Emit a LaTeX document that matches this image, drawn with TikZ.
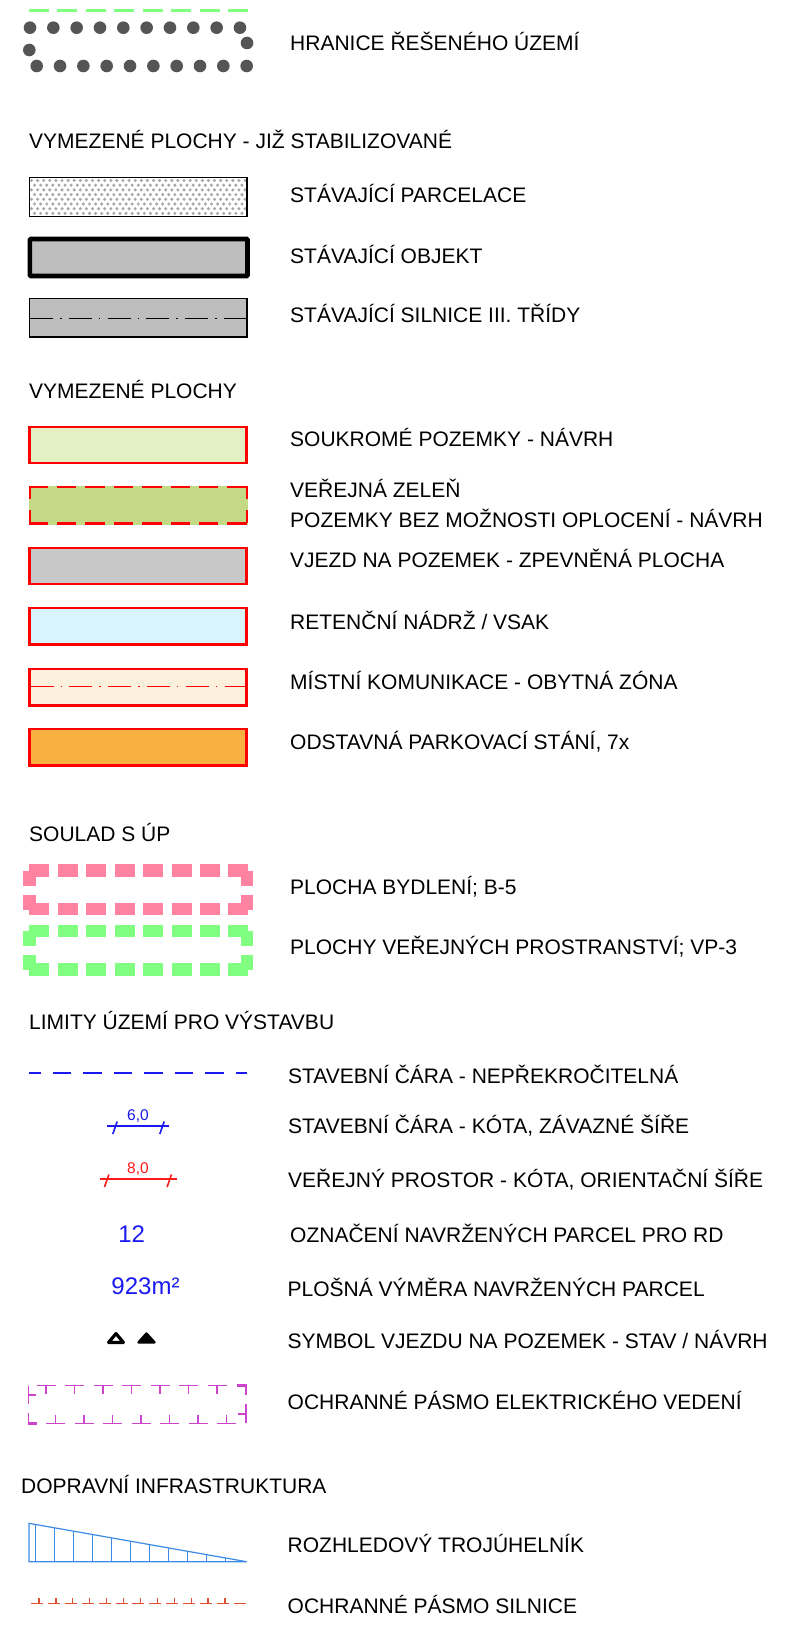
\documentclass[tikz,border=0pt]{standalone}
\usepackage{fontspec}
\setmainfont{Liberation Sans}
\definecolor{dotc}{HTML}{555555}
\definecolor{lgreen}{HTML}{80FF80}
\definecolor{pinkc}{HTML}{FF82A0}
\definecolor{pgray}{HTML}{A8A8A8}
\definecolor{bgray}{HTML}{BEBEBE}
\definecolor{fsouk}{HTML}{E3F0C3}
\definecolor{fzel}{HTML}{C3D985}
\definecolor{fvjezd}{HTML}{C8C8C8}
\definecolor{fret}{HTML}{D8F4FC}
\definecolor{fkom}{HTML}{FDF0DC}
\definecolor{fodst}{HTML}{F8B040}
\definecolor{bluec}{HTML}{1A1AF0}
\definecolor{redc}{HTML}{FF1A1A}
\definecolor{magc}{HTML}{CC44CC}
\definecolor{sightc}{HTML}{3C8CE6}
\definecolor{roadc}{HTML}{E05030}
\begin{document}
\begin{tikzpicture}[x=1pt,y=-1pt,
  lbl/.style={anchor=base west,inner sep=0pt,font=\fontsize{21}{25}\selectfont,yshift=-1.5pt},
  redbox/.style={draw=red,line width=2.4pt},
  dimtxt/.style={anchor=base,inner sep=0pt,font=\fontsize{15.5}{18}\selectfont},
  numtxt/.style={anchor=base,inner sep=0pt,font=\fontsize{24}{28}\selectfont,text=bluec},
  fat/.style={line width=12.5pt,line cap=butt}]
\useasboundingbox (0,0) rectangle (795,1629);
\fill[white] (0,0) rectangle (795,1629);

% ---- HRANICE
\draw[lgreen,line width=2.2pt,dash pattern=on 20pt off 8.45pt] (29,10.5) -- (248,10.5);
\foreach \i in {0,...,9} {
  \fill[dotc] ({30+23.33*\i},27.7) circle (6.3);
  \fill[dotc] ({36.7+23.33*\i},66) circle (6.3);
}
\fill[dotc] (29.3,50) circle (6.3);
\fill[dotc] (247,43) circle (6.3);
\node[lbl] (t1) at (290,49.5) {HRANICE ŘEŠENÉHO ÚZEMÍ};

\node[lbl] (h1) at (29,147.5) {VYMEZENÉ PLOCHY - JIŽ STABILIZOVANÉ};

% ---- parcelace
\begin{scope}
\clip (29.5,178) rectangle (246.5,216);
\foreach \r in {0,...,8} {
  \foreach \c in {0,...,35} {
    \pgfmathsetmacro{\xx}{31.5+\c*6.1+mod(\r,2)*3.05}
    \fill[pgray] (\xx,{180.5+\r*4.7}) circle (1.7);
  }
}
\end{scope}
\draw[black,line width=1.5pt] (29.3,177.5) rectangle (247,216.5);
\node[lbl] (t2) at (290,201.5) {STÁVAJÍCÍ PARCELACE};

% ---- objekt
\draw[black,fill=bgray,line width=4.6pt,rounded corners=1pt] (29.8,239) rectangle (247.5,276);
\node[lbl] (t3) at (290,261.5) {STÁVAJÍCÍ OBJEKT};

% ---- silnice
\draw[black,fill=bgray,line width=1.5pt] (29.5,298.7) rectangle (247,337);
\draw[black,line width=0.9pt,dash pattern=on 23pt off 7pt on 1.5pt off 7.3pt] (30,318.3) -- (247,318.3);
\node[lbl] (t4) at (290,320.5) {STÁVAJÍCÍ SILNICE III. TŘÍDY};

\node[lbl] (h2) at (29,396.5) {VYMEZENÉ PLOCHY};

% ---- red boxes
\draw[redbox,fill=fsouk] (29.5,426.7) rectangle (246.5,463);
\node[lbl] (t5) at (290,444.5) {SOUKROMÉ POZEMKY - NÁVRH};

\fill[fzel] (28.5,486) rectangle (247.5,524.5);
\draw[red,line width=2.4pt,dash pattern=on 19.5pt off 8.9pt] (28.5,487.2) -- (248,487.2);
\draw[red,line width=2.4pt,dash pattern=on 19.5pt off 8.9pt] (28.5,523.3) -- (248,523.3);
\draw[red,line width=2.4pt,dash pattern=on 13pt off 11pt] (29.7,486) -- (29.7,524.5);
\draw[red,line width=2.4pt,dash pattern=on 13pt off 11pt] (246.8,486) -- (246.8,524.5);
\node[lbl] (t6) at (290,495.5) {VEŘEJNÁ ZELEŇ};
\node[lbl] (t7) at (290,525.5) {POZEMKY BEZ MOŽNOSTI OPLOCENÍ - NÁVRH};

\draw[redbox,fill=fvjezd] (29.5,547.7) rectangle (246.5,584);
\node[lbl] (t8) at (290,565.5) {VJEZD NA POZEMEK - ZPEVNĚNÁ PLOCHA};

\draw[redbox,fill=fret] (29.5,608.2) rectangle (246.5,644.5);
\node[lbl] (t9) at (290,627.5) {RETENČNÍ NÁDRŽ / VSAK};

\draw[redbox,fill=fkom] (29.5,669.2) rectangle (246.5,705.5);
\draw[red,line width=0.9pt,dash pattern=on 23pt off 7pt on 1.5pt off 7.3pt] (30.5,686.7) -- (246,686.7);
\node[lbl] (t10) at (290,687.5) {MÍSTNÍ KOMUNIKACE - OBYTNÁ ZÓNA};

\draw[redbox,fill=fodst] (29.5,729.2) rectangle (246.5,765.5);
\node[lbl] (t11) at (290,747.5) {ODSTAVNÁ PARKOVACÍ STÁNÍ, 7x};

\node[lbl] (h3) at (29,839.5) {SOULAD S ÚP};

% ---- pink
\draw[pinkc,fat,dash pattern=on 20pt off 8.45pt] (29.3,870.5) -- (248,870.5);
\draw[pinkc,fat,dash pattern=on 20pt off 8.45pt] (29.3,909) -- (248,909);
\draw[pinkc,fat,dash pattern=on 15pt off 9pt] (29.7,870.5) -- (29.7,909.5);
\draw[pinkc,fat,dash pattern=on 15pt off 9pt] (247.2,870.5) -- (247.2,909.5);
\node[lbl] (t12) at (290,892.5) {PLOCHA BYDLENÍ; B-5};

% ---- green
\draw[lgreen,fat,dash pattern=on 20pt off 8.45pt] (29.3,931) -- (248,931);
\draw[lgreen,fat,dash pattern=on 20pt off 8.45pt] (29.3,969.5) -- (248,969.5);
\draw[lgreen,fat,dash pattern=on 15pt off 9pt] (29.7,931) -- (29.7,970);
\draw[lgreen,fat,dash pattern=on 15pt off 9pt] (247.2,931) -- (247.2,970);
\node[lbl] (t13) at (290,952.5) {PLOCHY VEŘEJNÝCH PROSTRANSTVÍ; VP-3};

\node[lbl] (h4) at (29,1027.5) {LIMITY ÚZEMÍ PRO VÝSTAVBU};

% ---- blue dashed
\draw[bluec,line width=2.2pt,dash pattern=on 18.5pt off 12pt,dash phase=6.8pt] (29,1073) -- (247,1073);
\node[lbl] (t14) at (288,1081.5) {STAVEBNÍ ČÁRA - NEPŘEKROČITELNÁ};

% ---- dim 6,0
\draw[bluec,line width=1.8pt] (107,1126) -- (169,1126);
\draw[bluec,line width=1.6pt] (112.8,1134) -- (117.2,1121.5);
\draw[bluec,line width=1.6pt] (159.8,1134) -- (164.2,1121.5);
\node[dimtxt,text=bluec] (d1) at (138,1120.5) {6,0};
\node[lbl] (t15) at (288,1131.5) {STAVEBNÍ ČÁRA - KÓTA, ZÁVAZNÉ ŠÍŘE};

% ---- dim 8,0
\draw[redc,line width=1.8pt] (100,1179) -- (177,1179);
\draw[redc,line width=1.6pt] (104.5,1187) -- (108.9,1174.5);
\draw[redc,line width=1.6pt] (167.1,1187) -- (171.5,1174.5);
\node[dimtxt,text=redc] (d2) at (138,1173.5) {8,0};
\node[lbl] (t16) at (288,1185.5) {VEŘEJNÝ PROSTOR - KÓTA, ORIENTAČNÍ ŠÍŘE};

% ---- numbers
\node[numtxt] (n1) at (131.7,1242) {12};
\node[lbl] (t17) at (290,1240.5) {OZNAČENÍ NAVRŽENÝCH PARCEL PRO RD};
\node[numtxt] (n2) at (145.5,1294) {923m²};
\node[lbl] (t18) at (287.5,1294.5) {PLOŠNÁ VÝMĚRA NAVRŽENÝCH PARCEL};

% ---- triangles
\draw[black,line width=3.2pt,line join=round,fill=white] (108.6,1342.4) -- (116,1333.6) -- (123.4,1342.4) -- cycle;
\draw[black,fill=black,line width=2.6pt,line join=round] (138.6,1342.4) -- (146.5,1333.6) -- (154.4,1342.4) -- cycle;
\node[lbl] (t19) at (287.5,1346.5) {SYMBOL VJEZDU NA POZEMEK - STAV / NÁVRH};

% ---- elektricke vedeni
\begin{scope}[magc,line width=1.5pt]
\draw[dash pattern=on 19pt off 9.5pt] (36.7,1385.7) -- (228,1385.7);
\foreach \k in {0,...,6} { \draw ({46.2+28.5*\k},1385.7) -- ({46.2+28.5*\k},1394); }
\draw[line width=2.6pt] (237,1385.7) -- (247,1385.7);
\draw (246,1385.7) -- (246,1395);
\draw (246,1404) -- (246,1423.3);
\draw (238,1414) -- (246,1414);
\draw (28.3,1385.7) -- (28.3,1404);
\draw (28.3,1395) -- (36,1395);
\draw (28.3,1413) -- (28.3,1423.3);
\draw[line width=2.6pt] (27.5,1423.3) -- (36.7,1423.3);
\draw[dash pattern=on 19pt off 9.5pt] (46,1423.3) -- (237,1423.3);
\foreach \k in {0,...,6} { \draw ({55.5+28.5*\k},1415) -- ({55.5+28.5*\k},1423.3); }
\end{scope}
\node[lbl] (t20) at (287.5,1407.5) {OCHRANNÉ PÁSMO ELEKTRICKÉHO VEDENÍ};

\node[lbl] (h5) at (21,1491.5) {DOPRAVNÍ INFRASTRUKTURA};

% ---- sight triangle
\begin{scope}[sightc,line width=1.2pt]
\draw (29,1523.3) -- (246.7,1561.7) -- (29,1561.7) -- cycle;
\draw (35.7,1561.7) -- (35.7,{1523.3+6.7*38.4/217.7});
\foreach \k in {0,...,9} {
  \pgfmathsetmacro{\xx}{54.3+19*\k}
  \pgfmathsetmacro{\yy}{1523.3+(\xx-29)*38.4/217.7}
  \draw (\xx,1561.7) -- (\xx,\yy);
}
\end{scope}
\node[lbl] (t21) at (287.5,1550.5) {ROZHLEDOVÝ TROJÚHELNÍK};

% ---- road protection
\begin{scope}[roadc,line width=1.2pt]
\draw[dash pattern=on 12pt off 4.9pt] (31,1603.3) -- (247,1603.3);
\foreach \k in {0,...,11} { \draw ({39+16.9*\k},1598) -- ({39+16.9*\k},1603.3); }
\end{scope}
\node[lbl] (t22) at (287.5,1611.5) {OCHRANNÉ PÁSMO SILNICE};
\end{tikzpicture}
\end{document}
